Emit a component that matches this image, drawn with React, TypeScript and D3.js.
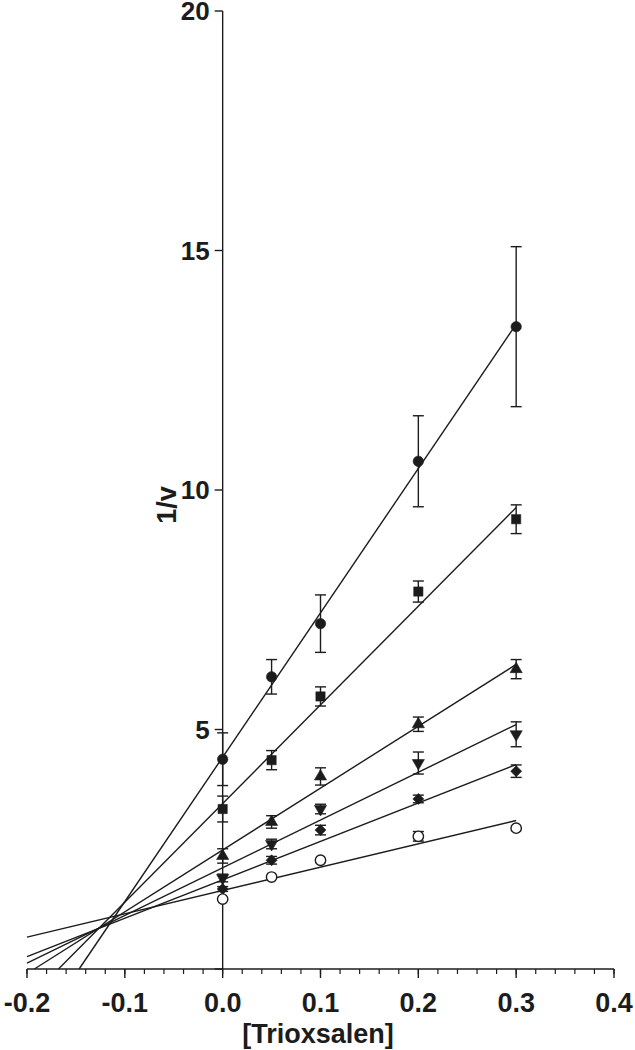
import React from 'react'
import * as d3 from 'd3'

// concentrations on the x axis
const xVals = [0, 0.05, 0.1, 0.2, 0.3]

// 1/v means and error bars for each series
const circleMeans = [4.38, 6.1, 7.21, 10.6, 13.41]
const circleErr = [0.55, 0.36, 0.6, 0.95, 1.67]
const squareMeans = [3.34, 4.36, 5.69, 7.88, 9.39]
const squareErr = [0.27, 0.2, 0.2, 0.22, 0.3]
const triangleMeans = [2.36, 3.07, 4.02, 5.11, 6.26]
const triangleErr = [0.15, 0.13, 0.18, 0.15, 0.2]
const invTriMeans = [1.9, 2.61, 3.34, 4.3, 4.9]
const invTriErr = [0.08, 0.1, 0.1, 0.23, 0.26]
const diamondMeans = [1.67, 2.27, 2.9, 3.55, 4.13]
const diamondErr = [0.05, 0.08, 0.1, 0.08, 0.13]
const openMeans = [1.46, 1.92, 2.27, 2.77, 2.94]
const openErr = [0, 0, 0, 0.1, 0]

const xTicks = [-0.2, -0.1, 0, 0.1, 0.2, 0.3, 0.4]
const yTicks = [0, 5, 10, 15, 20]

type Shape = 'circle' | 'square' | 'triangle' | 'invtri' | 'diamond' | 'open'

const series: { shape: Shape; means: number[]; err: number[] }[] = [
    { shape: 'circle', means: circleMeans, err: circleErr },
    { shape: 'square', means: squareMeans, err: squareErr },
    { shape: 'triangle', means: triangleMeans, err: triangleErr },
    { shape: 'invtri', means: invTriMeans, err: invTriErr },
    { shape: 'diamond', means: diamondMeans, err: diamondErr },
    { shape: 'open', means: openMeans, err: openErr }
]

const INK = '#1c1c1c'
const FONT = '"Liberation Sans", Arial, sans-serif'

// least squares fit, the way the original lines were drawn
function fit(xs: number[], ys: number[]) {
    const mx = d3.mean(xs) as number
    const my = d3.mean(ys) as number
    let sxy = 0
    let sxx = 0
    xs.forEach((x, i) => {
        sxy += (x - mx) * (ys[i] - my)
        sxx += (x - mx) * (x - mx)
    })
    const slope = sxy / sxx
    return { slope, intercept: my - slope * mx }
}

function markerPath(shape: Shape) {
    switch (shape) {
        case 'circle':
        case 'open':
            return d3.symbol(d3.symbolCircle, 85)()
        case 'square':
            return d3.symbol(d3.symbolSquare, 85)()
        case 'triangle':
        case 'invtri':
            return d3.symbol(d3.symbolTriangle, 64)()
        case 'diamond':
            return 'M0,-5.5L5.5,0L0,5.5L-5.5,0Z'
    }
}

export default function App() {
    const width = 635
    const height = 1050
    const x = d3.scaleLinear().domain([-0.2, 0.4]).range([27, 614])
    const y = d3.scaleLinear().domain([0, 20]).range([969, 11])
    const minorX = d3.range(-0.2, 0.4001, 0.02)

    return (
        <div style={{ position: 'absolute', left: 0, top: 0 }}>
            <svg width={width} height={height} style={{ display: 'block', background: '#fff' }}>
                {/* fitted lines */}
                {series.map((s) => {
                    const { slope, intercept } = fit(xVals, s.means)
                    const xStart = Math.max(-0.2, -intercept / slope)
                    const xEnd = 0.3
                    return (
                        <line
                            key={'l' + s.shape}
                            x1={x(xStart)}
                            y1={y(intercept + slope * xStart)}
                            x2={x(xEnd)}
                            y2={y(intercept + slope * xEnd)}
                            stroke={INK}
                            strokeWidth={1.4}
                        />
                    )
                })}

                {/* x axis */}
                <g>
                    <line x1={x(-0.2)} x2={x(0.4)} y1={y(0)} y2={y(0)} stroke={INK} strokeWidth={1.4} />
                    {minorX.map((t) => (
                        <line key={'mx' + t} x1={x(t)} x2={x(t)} y1={y(0)} y2={y(0) + 5} stroke={INK} strokeWidth={1.2} />
                    ))}
                    {xTicks.map((t) => (
                        <g key={'x' + t}>
                            <line x1={x(t)} x2={x(t)} y1={y(0)} y2={y(0) + 9} stroke={INK} strokeWidth={1.4} />
                            <text
                                x={x(t)}
                                y={1012}
                                textAnchor="middle"
                                fontFamily={FONT}
                                fontWeight="bold"
                                fontSize={27}
                                fill={INK}
                            >
                                {t.toFixed(1)}
                            </text>
                        </g>
                    ))}
                    <text x={318} y={1043} textAnchor="middle" fontFamily={FONT} fontWeight="bold" fontSize={27} fill={INK}>
                        [Trioxsalen]
                    </text>
                </g>

                {/* y axis at x = 0 */}
                <g>
                    <line x1={x(0)} x2={x(0)} y1={y(0)} y2={y(20)} stroke={INK} strokeWidth={1.4} />
                    {yTicks.map((t) => (
                        <g key={'y' + t}>
                            <line x1={x(0) - 8} x2={x(0)} y1={y(t)} y2={y(t)} stroke={INK} strokeWidth={1.4} />
                            {t > 0 && (
                                <text
                                    x={x(0) - 13}
                                    y={y(t)}
                                    dy="0.36em"
                                    textAnchor="end"
                                    fontFamily={FONT}
                                    fontWeight="bold"
                                    fontSize={26}
                                    fill={INK}
                                >
                                    {t}
                                </text>
                            )}
                        </g>
                    ))}
                    <text
                        transform={`translate(${176},${505}) rotate(-90)`}
                        textAnchor="middle"
                        fontFamily={FONT}
                        fontWeight="bold"
                        fontSize={27}
                        fill={INK}
                    >
                        1/v
                    </text>
                </g>

                {/* error bars and markers */}
                {series.map((s) =>
                    xVals.map((xv, i) => {
                        const cx = x(xv)
                        const cy = y(s.means[i])
                        const e = s.err[i]
                        return (
                            <g key={s.shape + i}>
                                {e > 0 && (
                                    <g stroke={INK} strokeWidth={1.4}>
                                        <line x1={cx} x2={cx} y1={y(s.means[i] - e)} y2={y(s.means[i] + e)} />
                                        <line x1={cx - 5.5} x2={cx + 5.5} y1={y(s.means[i] - e)} y2={y(s.means[i] - e)} />
                                        <line x1={cx - 5.5} x2={cx + 5.5} y1={y(s.means[i] + e)} y2={y(s.means[i] + e)} />
                                    </g>
                                )}
                                <path
                                    d={markerPath(s.shape) as string}
                                    transform={`translate(${cx},${cy})${s.shape === 'invtri' ? ' rotate(180)' : ''}`}
                                    fill={s.shape === 'open' ? '#fff' : INK}
                                    stroke={INK}
                                    strokeWidth={s.shape === 'open' ? 1.4 : 0.6}
                                />
                            </g>
                        )
                    })
                )}
            </svg>
        </div>
    )
}
